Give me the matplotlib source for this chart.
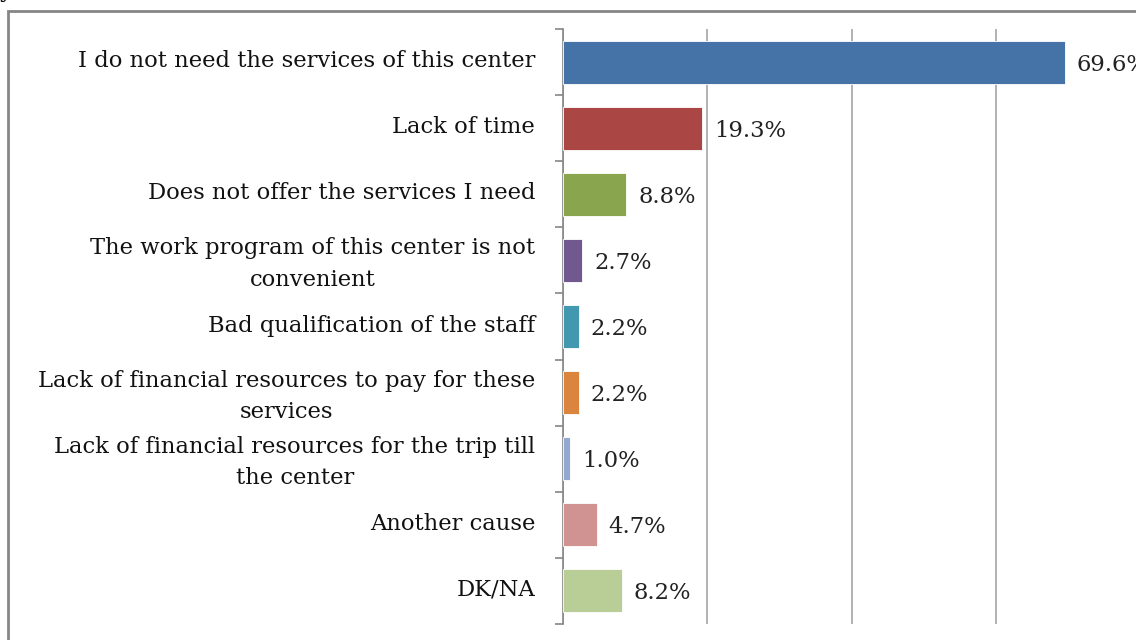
import matplotlib.pyplot as plt
from matplotlib.patches import Rectangle
from matplotlib.transforms import ScaledTranslation

# survey answers, top to bottom as in the chart
reasons = [
    "I do not need the services of this center",
    "Lack of time",
    "Does not offer the services I need",
    "The work program of this center is not\nconvenient",
    "Bad qualification of the staff",
    "Lack of financial resources to pay for these\nservices",
    "Lack of financial resources for the trip till\nthe center",
    "Another cause",
    "DK/NA",
]
shares = [69.6, 19.3, 8.8, 2.7, 2.2, 2.2, 1.0, 4.7, 8.2]
bar_colors = ["#4572A7", "#AA4643", "#89A54E", "#71588F", "#4198AF",
              "#DB843D", "#93A9CF", "#D19392", "#B9CD96"]

plt.rcParams['font.family'] = ['DejaVu Serif', 'Liberation Serif']
FS = 16.3

fig = plt.figure(figsize=(11.36, 6.4), dpi=100)
W, H = 1136, 640

# outer chart frame (right and bottom edges are cut off in the original)
frame = Rectangle((8 / W, -0.2), 1.2, 1 - 11 / H + 0.2, transform=fig.transFigure,
                  fill=False, edgecolor="#868686", linewidth=2, clip_on=False)
fig.patches.append(frame)
fig.text(0.0, 1.004, "y", fontsize=FS, va="baseline", ha="left")

ax = fig.add_axes([563 / W, 1 - 624 / H, 577 / W, (624 - 29) / H])
pos = list(range(len(reasons)))
ax.barh(pos, shares, height=0.65, color=bar_colors, edgecolor="white",
        linewidth=0.6, zorder=3)
ax.set_ylim(len(reasons) - 0.5, -0.5)
ax.set_xlim(0, 80)

for p, v in zip(pos, shares):
    ax.annotate(f"{v:.1f}%", (v, p), xytext=(8.5, 0), textcoords="offset points",
                ha="left", va="center_baseline", fontsize=FS, color="#222222",
                annotation_clip=False, zorder=4)

ax.set_xticks([0, 20, 40, 60, 80])
ax.xaxis.grid(True, color="#A6A6A6", linewidth=1.2, zorder=0)
ax.tick_params(axis="x", length=0, labelbottom=False)

ax.set_yticks(pos)
ax.set_yticklabels(reasons, fontsize=FS, color="#111111", ha="right",
                   multialignment="center", linespacing=1.55)
ax.tick_params(axis="y", which="major", length=0, pad=20)
ax.set_yticks([p - 0.5 for p in pos] + [len(pos) - 0.5], minor=True)
ax.tick_params(axis="y", which="minor", length=6, width=1.2, color="#868686")

# category labels sit a touch above the bar centres in the original
lift = ScaledTranslation(0, 2.5 / 72, fig.dpi_scale_trans)
for lab in ax.get_yticklabels():
    lab.set_transform(lab.get_transform() + lift)

for side in ["top", "right", "bottom"]:
    ax.spines[side].set_visible(False)
ax.spines["left"].set_color("#868686")
ax.spines["left"].set_linewidth(1.2)

fig.savefig("out.png", dpi=100)
